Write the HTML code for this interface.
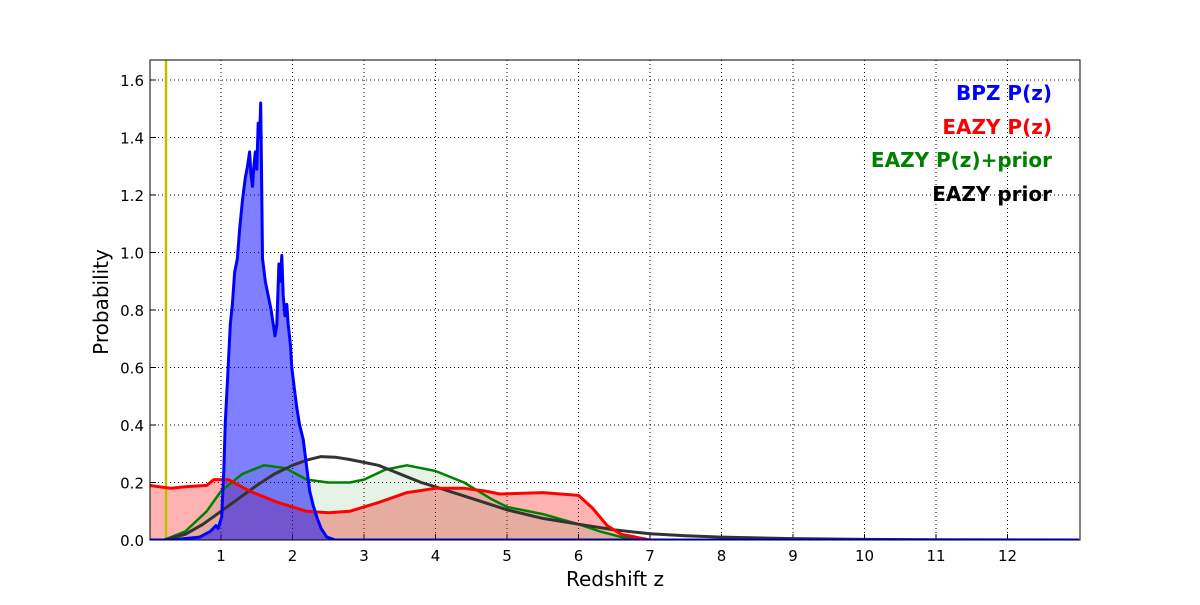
<!DOCTYPE html>
<html><head><meta charset="utf-8"><style>
body{margin:0;background:#fff;}
svg text{font-family:"DejaVu Sans","Liberation Sans",sans-serif;}
</style></head><body>
<svg id="chart" width="1200" height="600" xmlns="http://www.w3.org/2000/svg"></svg>
<script>
const xTicks=[1,2,3,4,5,6,7,8,9,10,11,12];
const yTicks=[0.0,0.2,0.4,0.6,0.8,1.0,1.2,1.4,1.6];
const bpzZ=[0,0.3,0.7,0.85,0.93,0.96,1.01,1.04,1.06,1.09,1.13,1.16,1.19,1.23,1.26,1.3,1.34,1.37,1.40,1.42,1.44,1.46,1.48,1.5,1.52,1.54,1.555,1.57,1.58,1.62,1.66,1.7,1.755,1.78,1.81,1.83,1.85,1.87,1.895,1.92,1.94,1.97,1.99,2.03,2.06,2.1,2.15,2.2,2.24,2.29,2.34,2.4,2.48,2.6,13];
const bpzP=[0,0,0.01,0.03,0.05,0.04,0.08,0.25,0.41,0.55,0.75,0.82,0.93,0.98,1.08,1.18,1.26,1.3,1.35,1.27,1.23,1.3,1.35,1.29,1.45,1.4,1.52,1.2,0.98,0.9,0.85,0.8,0.71,0.75,0.96,0.9,0.99,0.85,0.78,0.82,0.75,0.68,0.60,0.52,0.46,0.4,0.35,0.25,0.17,0.12,0.08,0.04,0.01,0,0];
const eazyZ=[0,0.3,0.5,0.8,0.9,1.1,1.4,1.8,2.2,2.5,2.8,3.2,3.6,4.0,4.4,4.7,4.9,5.5,6.0,6.2,6.4,6.6,7.0];
const eazyP=[0.19,0.18,0.185,0.19,0.21,0.21,0.17,0.13,0.10,0.095,0.10,0.13,0.165,0.18,0.18,0.17,0.16,0.165,0.155,0.11,0.05,0.02,0];
const priorPZ=[0.2,0.5,0.8,1.0,1.3,1.6,1.9,2.2,2.5,2.8,3.0,3.3,3.6,4.0,4.4,4.8,5.0,5.5,6.0,6.3,6.6,7.0];
const priorPP=[0,0.03,0.10,0.17,0.23,0.26,0.25,0.21,0.20,0.20,0.21,0.245,0.26,0.24,0.20,0.14,0.115,0.09,0.055,0.03,0.01,0];
const priorZ=[0.2,0.5,0.75,1.0,1.25,1.5,1.75,2.0,2.2,2.4,2.6,2.8,3.0,3.2,3.4,3.6,3.8,4.0,4.5,5.0,5.5,6.0,6.5,7.0,7.5,8.0,9.0,10,11,13];
const priorP=[0,0.02,0.055,0.10,0.145,0.19,0.23,0.26,0.278,0.29,0.288,0.28,0.27,0.26,0.24,0.22,0.2,0.185,0.145,0.105,0.075,0.055,0.035,0.022,0.015,0.01,0.005,0.002,0.001,0];
const X0=149.5,XS=71.5,Y0=540,YS=287.5;
const sx=z=>X0+z*XS, sy=p=>Y0-p*YS;
const NS="http://www.w3.org/2000/svg", svg=document.getElementById('chart');
function mk(t,a,p){const e=document.createElementNS(NS,t);for(const k in a)e.setAttribute(k,a[k]);(p||svg).appendChild(e);return e;}
const clip=mk('clipPath',{id:'c'});mk('rect',{x:150,y:60,width:930,height:480},clip);
xTicks.forEach(v=>{const g=mk('line',{x1:sx(v),x2:sx(v),y1:60,y2:540,stroke:'#000','stroke-dasharray':'1,3','stroke-width':1});

const t=mk('text',{x:sx(v),y:561,'text-anchor':'middle','font-size':15});t.textContent=v;

mk('line',{x1:sx(v),x2:sx(v),y1:540,y2:534,stroke:'#000'});});
yTicks.forEach(v=>{const g=mk('line',{x1:150,x2:1080,y1:sy(v),y2:sy(v),stroke:'#000','stroke-dasharray':'1,3','stroke-width':1});

const t=mk('text',{x:144,y:sy(v)+6,'text-anchor':'end','font-size':15});t.textContent=v.toFixed(1);

mk('line',{x1:150,x2:156,y1:sy(v),y2:sy(v),stroke:'#000'});});
function pts(Z,P){return Z.map((z,i)=>sx(z).toFixed(1)+','+sy(P[i]).toFixed(1)).join(' ');}
function area(Z,P,fill,name){const d='M'+sx(Z[0])+','+Y0+' L'+pts(Z,P)+' L'+sx(Z[Z.length-1])+','+Y0+'Z';
const e=mk('path',{d:d,fill:fill,'clip-path':'url(#c)'});}
function line(Z,P,col,w,name){const e=mk('polyline',{points:pts(Z,P),fill:'none',stroke:col,'stroke-width':w,'stroke-linejoin':'round','clip-path':'url(#c)'});
}
area(eazyZ,eazyP,'rgba(255,0,0,0.3)','eazy-pz-fill');
area(priorPZ,priorPP,'rgba(0,128,0,0.1)','eazy-pz-prior-fill');
area(bpzZ,bpzP,'rgba(0,0,255,0.5)','bpz-pz-fill');
const yl=mk('line',{x1:166,x2:166,y1:60,y2:540,stroke:'#bfbf00','stroke-width':2.5});

line(priorPZ,priorPP,'#008000',2.5,'eazy-pz-prior-line');
line(priorZ,priorP,'#333',3,'eazy-prior-line');
line(eazyZ,eazyP,'#ff0000',3,'eazy-pz-line');
line(bpzZ,bpzP,'#0000ff',3,'bpz-pz-line');
const fr=mk('rect',{x:150,y:60,width:930,height:480,fill:'none',stroke:'#000','stroke-width':1});

const xt=mk('text',{x:615,y:586,'text-anchor':'middle','font-size':20});xt.textContent='Redshift z';

const ytt=mk('text',{x:0,y:0,'text-anchor':'middle','font-size':20,transform:'translate(108,302) rotate(-90)'});ytt.textContent='Probability';

const legend=[['BPZ P(z)','#0000ff',100],['EAZY P(z)','#ff0000',134],['EAZY P(z)+prior','#008000',167],['EAZY prior','#000',201]];
legend.forEach(l=>{const t=mk('text',{x:1052,y:l[2],'text-anchor':'end','font-size':20,'font-weight':'bold',fill:l[1]});t.textContent=l[0];
});
</script>
</body></html>
